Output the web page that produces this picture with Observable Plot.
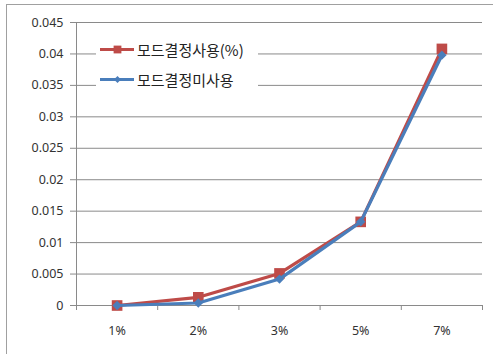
<!DOCTYPE html>
<html><head><meta charset="utf-8">
<script src="https://cdn.jsdelivr.net/npm/d3@7"></script>
<script src="https://cdn.jsdelivr.net/npm/@observablehq/plot@0.6"></script>
<style>
body{margin:0;background:#fff;}
#wrap{position:relative;width:493px;height:354px;overflow:hidden;background:#fff;}
#wrap svg{position:absolute;left:0;top:0;}
#border{position:absolute;left:6px;top:4px;width:600px;height:400px;border-left:1.5px solid #a0a0a0;border-top:1.5px solid #a0a0a0;}
#legend{position:absolute;left:96px;top:36px;width:162px;height:56px;background:#fff;font-family:"Noto Sans CJK KR",sans-serif;font-size:15px;color:#222;}
.item{position:absolute;left:4px;height:20px;display:flex;align-items:center;}
.item svg{position:static !important;margin-right:3px;}
</style></head><body><div id="wrap"><div id="border"></div></div>
<script>
const categories = ["1%", "2%", "3%", "5%", "7%"];
const seriesNames = ["모드결정사용(%)", "모드결정미사용"];
const usedValues = [0, 0.0013, 0.0051, 0.0133, 0.0408];
const unusedValues = [0, 0.0004, 0.0042, 0.0133, 0.0398];
const yTicks = [0, 0.005, 0.01, 0.015, 0.02, 0.025, 0.03, 0.035, 0.04, 0.045];
const colors = ["#BE4B48", "#4A7EBB"];
const symbols = ["square", "diamond2"];

const rows = [];
[usedValues, unusedValues].forEach((vals, s) => {
  vals.forEach((v, i) => rows.push({i, cat: categories[i], value: v, series: seriesNames[s]}));
});
const bounds = d3.range(categories.length + 1).map(k => k - 0.5);

const chart = Plot.plot({
  width: 493, height: 354,
  marginLeft: 76, marginRight: 11, marginTop: 22, marginBottom: 49,
  style: {fontFamily: "'Noto Sans', 'DejaVu Sans', sans-serif", fontSize: "12.5px", color: "#333", background: "transparent"},
  x: {type: "linear", domain: [-0.5, categories.length - 0.5], label: null},
  y: {domain: [0, 0.045], label: null},
  color: {domain: seriesNames, range: colors},
  marks: [
    Plot.ruleY(yTicks, {stroke: "#8a8a8a", strokeWidth: 1}),
    Plot.ruleX([-0.5], {y1: 0, y2: 0.045, stroke: "#8a8a8a"}),
    Plot.axisY({ticks: yTicks, tickSize: 6, tickPadding: 7, tickFormat: d => String(d), stroke: "#8a8a8a", fill: "#333", label: null}),
    Plot.axisX({ticks: bounds, tickSize: 5, tickFormat: () => "", stroke: "#8a8a8a", label: null}),
    Plot.axisX({ticks: d3.range(categories.length), tickSize: 0, tickPadding: 21, tickFormat: i => categories[i], fill: "#333", label: null}),
    ...seriesNames.flatMap((name, s) => [
      Plot.line(rows.filter(d => d.series === name), {x: "i", y: "value", stroke: colors[s], strokeWidth: 3.2}),
      Plot.dot(rows.filter(d => d.series === name), {x: "i", y: "value", fill: colors[s], symbol: symbols[s], r: s === 0 ? 6 : 4.2, stroke: "none"})
    ])
  ]
});
document.getElementById("wrap").appendChild(chart);

const legend = document.createElement("div");
legend.id = "legend";
seriesNames.forEach((name, s) => {
  const item = document.createElement("div");
  item.className = "item";
  item.style.top = (s === 0 ? 3 : 33) + "px";
  const sw = Plot.plot({
    width: 34, height: 14, margin: 0,
    x: {domain: [0, 1], axis: null}, y: {domain: [0, 1], axis: null},
    marks: [
      Plot.ruleY([0.5], {x1: 0, x2: 1, stroke: colors[s], strokeWidth: 3.2}),
      Plot.dot([0.5], {x: 0.5, y: 0.5, symbol: symbols[s], fill: colors[s], r: s === 0 ? 4.4 : 3.2})
    ],
    style: {background: "transparent"}
  });
  item.appendChild(sw);
  const t = document.createElement("span");
  t.textContent = name;
  item.appendChild(t);
  legend.appendChild(item);
});
document.getElementById("wrap").appendChild(legend);
</script></body></html>
